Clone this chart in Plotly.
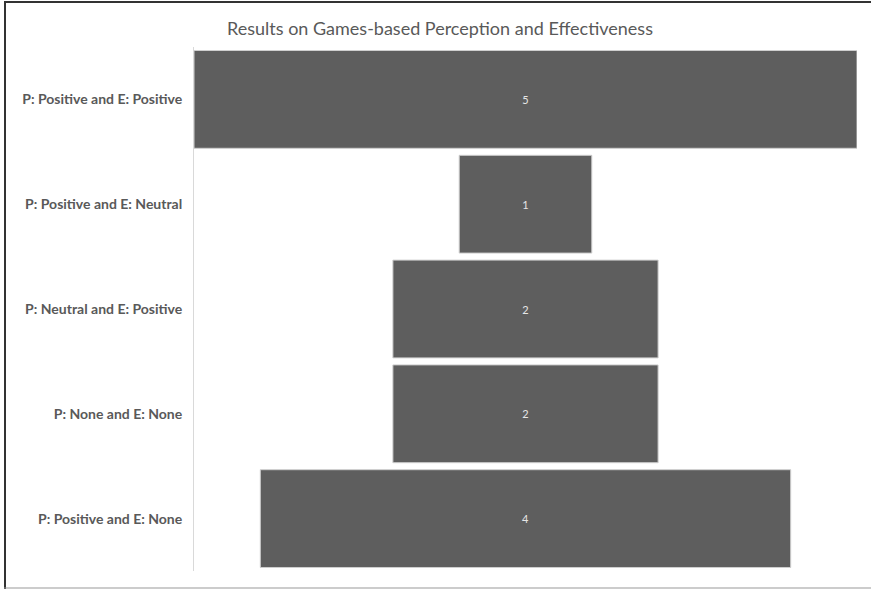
import plotly.graph_objects as go

categories = ["P: Positive and E: Positive", "P: Positive and E: Neutral",
              "P: Neutral and E: Positive", "P: None and E: None",
              "P: Positive and E: None"]
counts = [5, 1, 2, 2, 4]
title_text = "Results on Games-based Perception and Effectiveness"

W, H = 871, 590
ml, mr, mt, mb = 194, 14, 47, 19
pw, ph = W - ml - mr, H - mt - mb

def px(x):
    return (x - ml) / pw

def py(y):
    return 1 - (y - mt) / ph

fig = go.Figure(go.Funnel(
    y=categories,
    x=counts,
    textinfo="value",
    textposition="inside",
    insidetextfont=dict(color="#e6e6e6", size=11, family="Lato"),
    marker=dict(color="#5e5e5e", line=dict(color="#cfcfcf", width=1)),
    connector=dict(visible=False),
    hoverinfo="y+x",
))

half = max(counts) / 2
fig.update_layout(
    width=W, height=H,
    margin=dict(l=ml, r=mr, t=mt, b=mb),
    paper_bgcolor="white", plot_bgcolor="white",
    funnelgap=0.067,
    showlegend=False,
    title=dict(text=title_text, x=440 / W, xanchor="center", y=1 - 29 / H, yanchor="middle",
               font=dict(family="Lato", size=18, color="#595959")),
    font=dict(family="Lato", color="#595959"),
    xaxis=dict(visible=False, range=[-half, half]),
    yaxis=dict(showline=True, linecolor="#d9d9d9", linewidth=1, ticks="",
               tickfont=dict(family="Lato", size=14, color="#595959", weight="bold"),
               ticklabelstandoff=8, showgrid=False),
    shapes=[
        dict(type="line", xref="paper", yref="paper", x0=px(5), x1=px(5), y0=py(1), y1=py(589),
             line=dict(color="#333333", width=2)),
        dict(type="line", xref="paper", yref="paper", x0=px(4), x1=px(871), y0=py(2), y1=py(2),
             line=dict(color="#333333", width=2)),
        dict(type="line", xref="paper", yref="paper", x0=px(4), x1=px(871), y0=py(588), y1=py(588),
             line=dict(color="#999999", width=1)),
    ],
)

fig.write_html("out.html")
